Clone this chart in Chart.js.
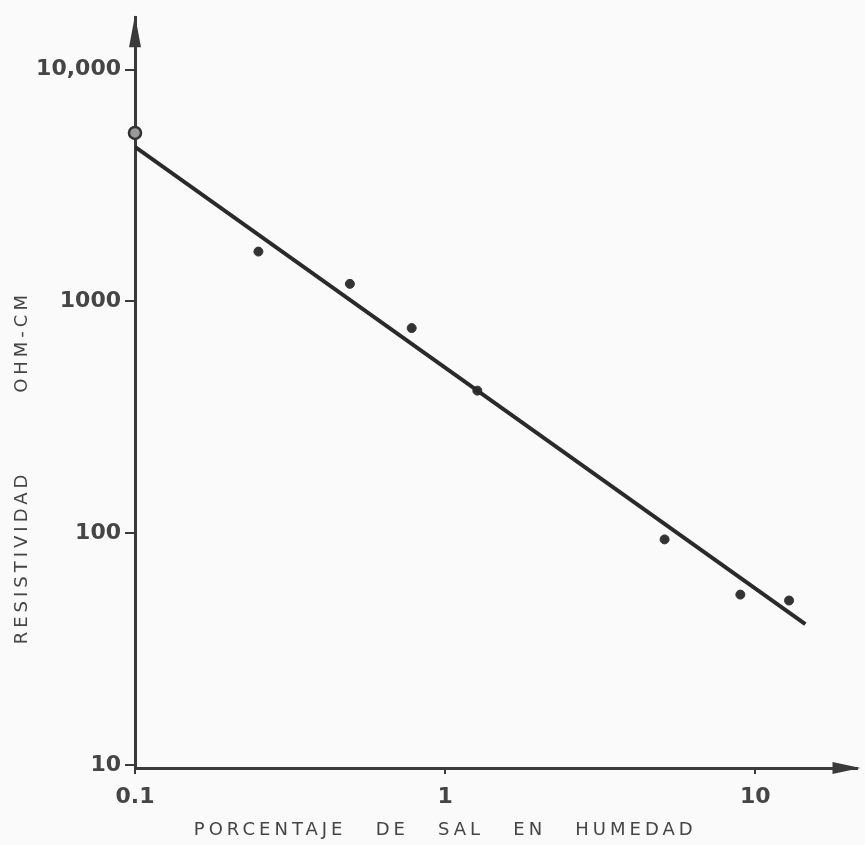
<!DOCTYPE html>
<html>
<head>
<meta charset="utf-8">
<script src="https://cdn.jsdelivr.net/npm/chart.js@4"></script>
<style>
  html, body { margin: 0; padding: 0; background: #fafafa; }
  #wrap { width: 865px; height: 845px; }
</style>
</head>
<body>
<div id="wrap"><canvas id="resChart" width="865" height="845"></canvas></div>
<script>
// measured points (% salt, ohm-cm)
const saltPct = [0.1, 0.25, 0.493, 0.78, 1.27, 5.1, 8.95, 12.85];
const resistivity = [5330, 1640, 1190, 767, 412, 94, 54.3, 51.2];

// hand-drawn fit line end points
const fitPct = [0.1, 14.5];
const fitRes = [4640, 40.5];

const yTicks = [10, 100, 1000, 10000];
const yTickLabels = ['10', '100', '1000', '10,000'];
const xTicks = [0.1, 1, 10];
const xTickLabels = ['0.1', '1', '10'];

const xTitle = 'PORCENTAJE   DE   SAL   EN   HUMEDAD';
const yTitle = 'RESISTIVIDAD        OHM-CM';

const ink = '#3a3a3a';
const textInk = '#454545';

// axis titles and arrowheads, drawn like the sketch
const sketchPlugin = {
    id: 'sketch',
    afterDraw(chart) {
        const ctx = chart.ctx;
        const a = chart.chartArea;
        ctx.save();
        ctx.fillStyle = ink;
        // arrow on y axis
        ctx.beginPath();
        ctx.moveTo(a.left, a.top - 2);
        ctx.lineTo(a.left - 6, a.top + 30);
        ctx.lineTo(a.left + 6, a.top + 30);
        ctx.closePath();
        ctx.fill();
        // arrow on x axis
        ctx.beginPath();
        ctx.moveTo(a.right + 4, a.bottom);
        ctx.lineTo(a.right - 24, a.bottom - 6);
        ctx.lineTo(a.right - 24, a.bottom + 6);
        ctx.closePath();
        ctx.fill();

        ctx.fillStyle = textInk;
        ctx.font = '18px "DejaVu Sans"';
        ctx.letterSpacing = '4px';
        ctx.textAlign = 'center';
        ctx.textBaseline = 'middle';
        ctx.fillText(xTitle, a.left + (a.right - a.left) * 0.43, 830);

        ctx.translate(22, a.top + (a.bottom - a.top) * 0.6);
        ctx.rotate(-Math.PI / 2);
        ctx.fillText(yTitle, 0, 0);
        ctx.restore();
    }
};

new Chart(document.getElementById('resChart').getContext('2d'), {
    type: 'scatter',
    data: {
        datasets: [{
            type: 'line',
            label: 'Ajuste',
            data: fitPct.map((x, i) => ({ x: x, y: fitRes[i] })),
            borderColor: '#2a2a2a',
            borderWidth: 4,
            pointRadius: 0,
            fill: false
        }, {
            label: 'Medidas',
            data: saltPct.map((x, i) => ({ x: x, y: resistivity[i] })),
            clip: false,
            pointRadius: saltPct.map((x, i) => i === 0 ? 6 : 4.5),
            backgroundColor: saltPct.map((x, i) => i === 0 ? '#9a9a9a' : '#333'),
            borderColor: '#333',
            borderWidth: saltPct.map((x, i) => i === 0 ? 2.5 : 1)
        }]
    },
    options: {
        responsive: false,
        animation: false,
        layout: { padding: { top: 10, right: 5, left: 0, bottom: 0 } },
        plugins: {
            legend: { display: false },
            tooltip: { enabled: false }
        },
        scales: {
            x: {
                type: 'logarithmic',
                min: 0.1,
                max: 21.2,
                afterBuildTicks: scale => { scale.ticks = xTicks.map(v => ({ value: v })); },
                afterFit: scale => { scale.height = 77; },
                border: { display: true, color: ink, width: 3 },
                grid: { display: true, drawOnChartArea: false, color: ink, lineWidth: 2, tickLength: 6 },
                ticks: {
                    autoSkip: false,
                    maxRotation: 0,
                    padding: 10,
                    color: textInk,
                    font: { family: 'DejaVu Sans', size: 22, weight: 'bold' },
                    callback: (v) => xTickLabels[xTicks.indexOf(v)] ?? ''
                }
            },
            y: {
                type: 'logarithmic',
                min: 9.7,
                max: 16830,
                afterBuildTicks: scale => { scale.ticks = yTicks.map(v => ({ value: v })); },
                afterFit: scale => { scale.width = 135; },
                border: { display: true, color: ink, width: 3 },
                grid: { display: true, drawOnChartArea: false, color: ink, lineWidth: 2, tickLength: 10 },
                ticks: {
                    autoSkip: false,
                    padding: 4,
                    color: textInk,
                    font: { family: 'DejaVu Sans', size: 22, weight: 'bold' },
                    callback: (v) => yTickLabels[yTicks.indexOf(v)] ?? ''
                }
            }
        }
    },
    plugins: [sketchPlugin]
});
</script>
</body>
</html>
